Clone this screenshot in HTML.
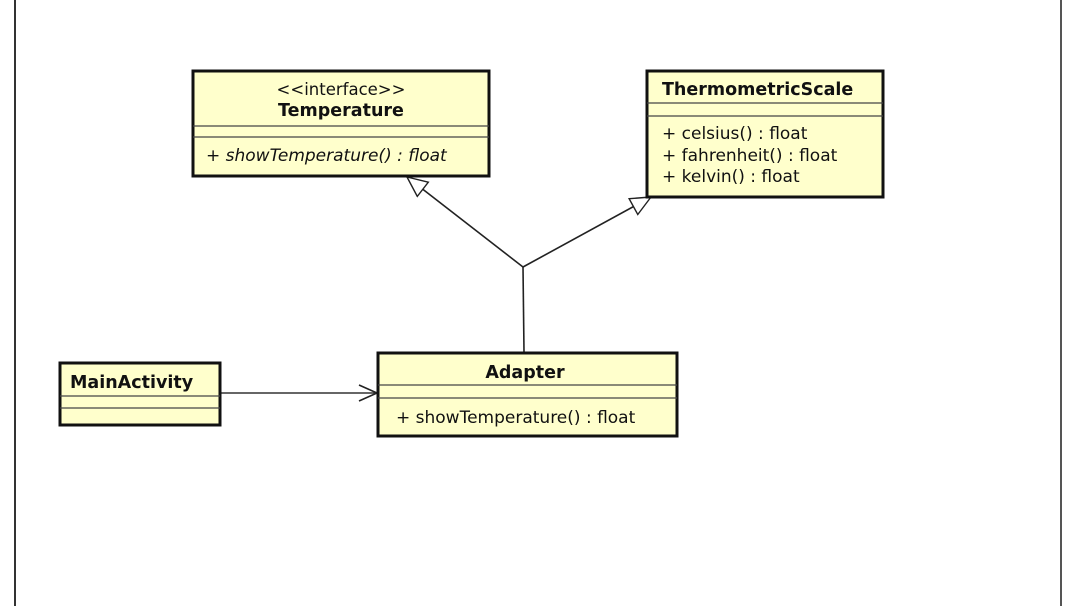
<!DOCTYPE html>
<html><head><meta charset="utf-8"><style>
html,body{margin:0;padding:0;background:#fff;width:1076px;height:606px;overflow:hidden}
text{font-family:"DejaVu Sans","Liberation Sans",sans-serif;fill:#111}
</style></head><body>
<svg width="1076" height="606" xmlns="http://www.w3.org/2000/svg">
<defs>
<marker id="tri" markerWidth="24" markerHeight="24" refX="21" refY="10" orient="auto" markerUnits="userSpaceOnUse">
<polygon points="1,1 21,10 1,19" fill="#fff" stroke="#222" stroke-width="1.4"/>
</marker>
<marker id="open" markerWidth="24" markerHeight="24" refX="19" refY="10" orient="auto" markerUnits="userSpaceOnUse">
<polyline points="1,2 19,10 1,18" fill="none" stroke="#222" stroke-width="1.6"/>
</marker>
</defs>
<line x1="15" y1="0" x2="15" y2="606" stroke="#333" stroke-width="2"/>
<line x1="1061" y1="0" x2="1061" y2="606" stroke="#555" stroke-width="2"/>

<line x1="524" y1="352" x2="523" y2="267" stroke="#222" stroke-width="1.6"/>
<line x1="523" y1="267" x2="407" y2="177" stroke="#222" stroke-width="1.6" marker-end="url(#tri)"/>
<line x1="523" y1="267" x2="651" y2="197" stroke="#222" stroke-width="1.6" marker-end="url(#tri)"/>
<line x1="220" y1="393" x2="377" y2="393" stroke="#333" stroke-width="1.6" marker-end="url(#open)"/>

<rect x="193" y="71" width="296" height="105" fill="#ffffcc" stroke="#111" stroke-width="3"/>
<line x1="193" y1="126" x2="489" y2="126" stroke="#444" stroke-width="1.2"/>
<line x1="193" y1="137" x2="489" y2="137" stroke="#444" stroke-width="1.2"/>
<text x="341" y="95" font-size="16.5" text-anchor="middle" fill="#333">&lt;&lt;interface&gt;&gt;</text>
<text x="341" y="116" font-size="17.5" font-weight="bold" text-anchor="middle">Temperature</text>
<text x="206" y="161" font-size="17" font-style="italic" fill="#222">+ showTemperature() : float</text>

<rect x="647" y="71" width="236" height="126" fill="#ffffcc" stroke="#111" stroke-width="3"/>
<line x1="647" y1="103" x2="883" y2="103" stroke="#444" stroke-width="1.2"/>
<line x1="647" y1="116" x2="883" y2="116" stroke="#444" stroke-width="1.2"/>
<text x="662" y="95" font-size="17.5" font-weight="bold">ThermometricScale</text>
<text x="662" y="139" font-size="17" fill="#222">+ celsius() : float</text>
<text x="662" y="161" font-size="17" fill="#222">+ fahrenheit() : float</text>
<text x="662" y="182" font-size="17" fill="#222">+ kelvin() : float</text>

<rect x="60" y="363" width="160" height="62" fill="#ffffcc" stroke="#111" stroke-width="3"/>
<line x1="60" y1="396" x2="220" y2="396" stroke="#444" stroke-width="1.2"/>
<line x1="60" y1="408" x2="220" y2="408" stroke="#444" stroke-width="1.2"/>
<text x="70" y="388" font-size="17.5" font-weight="bold">MainActivity</text>

<rect x="378" y="353" width="299" height="83" fill="#ffffcc" stroke="#111" stroke-width="3"/>
<line x1="378" y1="385" x2="677" y2="385" stroke="#444" stroke-width="1.2"/>
<line x1="378" y1="398" x2="677" y2="398" stroke="#444" stroke-width="1.2"/>
<text x="525" y="378" font-size="17.5" font-weight="bold" text-anchor="middle">Adapter</text>
<text x="396" y="423" font-size="17" fill="#222">+ showTemperature() : float</text>
</svg>
</body></html>
